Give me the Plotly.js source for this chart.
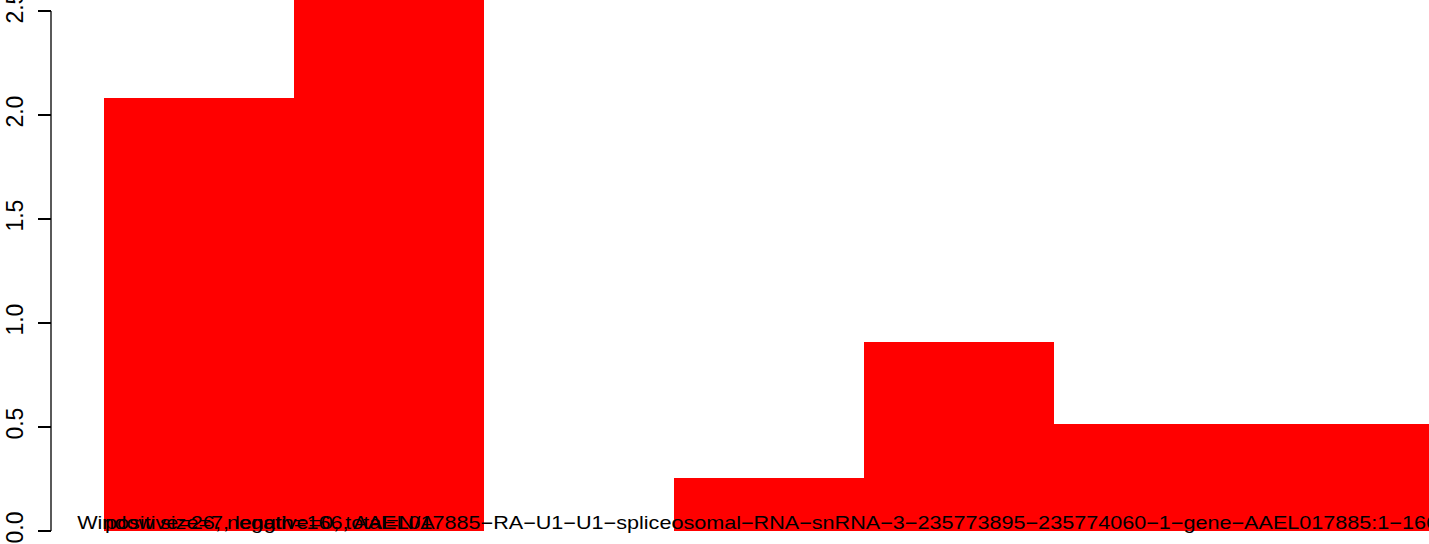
<!DOCTYPE html>
<html><head><meta charset="utf-8">
<script src="https://cdn.plot.ly/plotly-3.0.1.min.js"></script>
<style>
html,body{margin:0;padding:0;background:#fff;}
#chart{width:1429px;height:544px;}
#chart .annotation-text{transform-box:fill-box;transform-origin:0 0;transform:scaleX(1.2);}
</style>
</head><body><div id="chart"></div>
<script>
const categories = ['w1','w2','w3','w4','w5','w6','w7'];
const values = [2.08, 2.7, 0, 0.255, 0.909, 0.514, 0.514];
const yTickValues = [0, 0.5, 1, 1.5, 2, 2.5];
const yTickLabels = ['0.0','0.5','1.0','1.5','2.0','2.5'];
const labelA = 'Window size=7, length=166, AAEL017885\u2212RA\u2212U1\u2212U1\u2212spliceosomal\u2212RNA\u2212snRNA\u22123\u2212235773895\u2212235774060\u22121\u2212gene\u2212AAEL017885:1\u2212166';
const labelB = 'positive=26, negative=0, total=N/A';

const W = 1429;
const font = 'Liberation Sans, Arial, Helvetica, sans-serif';

const trace = {
  type: 'bar', x: categories, y: values,
  marker: {color: '#FF0000', line: {width: 0}},
  hoverinfo: 'none'
};

const layout = {
  width: W, height: 544,
  margin: {l: 0, r: 0, t: 0, b: 0},
  paper_bgcolor: '#fff', plot_bgcolor: '#fff',
  showlegend: false, bargap: 0,
  xaxis: {type: 'category', range: [-1.047, 6.474], showgrid: false, zeroline: false,
          showticklabels: false, ticks: '', showline: false},
  yaxis: {range: [-0.0625, 2.553], anchor: 'free', position: 51/W, side: 'left',
          showgrid: false, zeroline: false, showline: false,
          tickmode: 'array', tickvals: yTickValues, ticktext: yTickLabels,
          ticks: 'outside', ticklen: 13, tickwidth: 1.3, tickcolor: '#000',
          tickangle: -90, ticklabelstandoff: 6, ticklabeloverflow: 'allow',
          tickfont: {family: font, size: 23, color: '#000'}},
  shapes: [{type: 'line', xref: 'paper', yref: 'y', x0: 51/W, x1: 51/W, y0: 0, y1: 2.5,
            line: {color: '#000', width: 1.3}}],
  annotations: [
    {text: labelA, xref: 'paper', yref: 'y', x: 75/W, y: 0, xanchor: 'left', yanchor: 'bottom',
     showarrow: false, yshift: -4, font: {family: font, size: 18, color: '#000'}},
    {text: labelB, xref: 'paper', yref: 'y', x: 103/W, y: 0, xanchor: 'left', yanchor: 'bottom',
     showarrow: false, yshift: -4, font: {family: font, size: 18, color: '#000'}}
  ]
};

Plotly.newPlot('chart', [trace], layout, {displayModeBar: false, staticPlot: true});
</script></body></html>
